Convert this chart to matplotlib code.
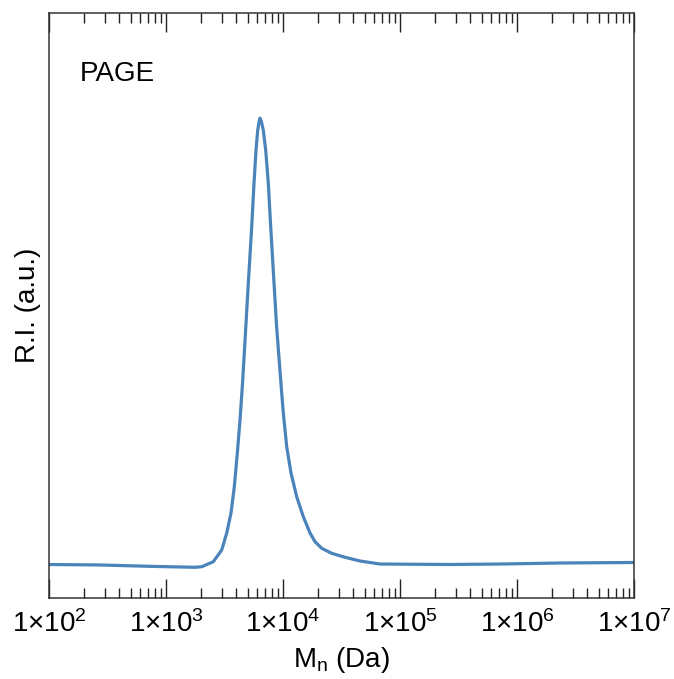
import numpy as np
import matplotlib
matplotlib.use('Agg')
import matplotlib.pyplot as plt
from matplotlib.ticker import LogLocator, FixedLocator, NullFormatter

plt.rcParams.update({'font.family': 'Liberation Sans', 'font.size': 20,
                     'mathtext.fontset': 'custom', 'mathtext.rm': 'Liberation Sans',
                     'mathtext.default': 'regular'})

# molar mass (Da) and refractive index signal (a.u., peak normalised to 1)
mn = [100, 273, 729, 1770, 2019, 2537, 2993, 3303, 3594, 3835, 4069, 4291,
      4488, 4668, 5052, 5401, 5650, 5879, 6080, 6223, 6359, 6537, 6785, 7113,
      7486, 7849, 8378, 8799, 9243, 9613, 10060, 10755, 11706, 13095, 14913,
      17017, 18773, 21423, 26077, 33884, 45510, 67480, 267300, 716143,
      2333000, 10000000]
ri = [0.0698, 0.0688, 0.066, 0.064, 0.0652, 0.0756, 0.100, 0.1354, 0.1771,
      0.2319, 0.3021, 0.3708, 0.4402, 0.5104, 0.6563, 0.7735, 0.8646, 0.9333,
      0.975, 0.9906, 1.000, 0.9927, 0.975, 0.9333, 0.8646, 0.7735, 0.6563,
      0.5688, 0.500, 0.4458, 0.3854, 0.3152, 0.2604, 0.211, 0.1694, 0.1354,
      0.1173, 0.1035, 0.0931, 0.0848, 0.0771, 0.0708, 0.0698, 0.0708, 0.0729,
      0.074]
tick_vals = [1e2, 1e3, 1e4, 1e5, 1e6, 1e7]
tick_labels = ['1×10$^{%d}$' % e for e in range(2, 8)]

fig = plt.figure(figsize=(6.74, 6.79), dpi=100)
ax = fig.add_axes([0.0727, 0.1193, 0.868, 0.8615])
ax.plot(mn, ri, color='#4a84bb', lw=2.3, solid_capstyle='round', solid_joinstyle='round')
ax.set_xscale('log')
ax.set_xlim(1e2, 1e7)
ax.set_ylim(0, 1.219)

ax.xaxis.set_major_locator(FixedLocator(tick_vals))
ax.set_xticklabels(tick_labels)
ax.xaxis.set_minor_locator(LogLocator(base=10, subs=np.arange(2, 10)))
ax.xaxis.set_minor_formatter(NullFormatter())
ax.tick_params(axis='x', which='major', direction='in', length=13.7, width=1,
               top=True, pad=9, colors='#222222', labelcolor='black')
ax.tick_params(axis='x', which='minor', direction='in', length=7.2, width=1,
               top=True, colors='#222222')
ax.set_yticks([])
for s in ax.spines.values():
    s.set_color('#333333')
    s.set_linewidth(1.1)

ax.set_xlabel('M$_{n}$ (Da)', labelpad=5)
ax.set_ylabel('R.I. (a.u.)', labelpad=6)
ax.text(0.053, 0.884, 'PAGE', transform=ax.transAxes, va='baseline', ha='left')

fig.savefig('out.png', dpi=100)
